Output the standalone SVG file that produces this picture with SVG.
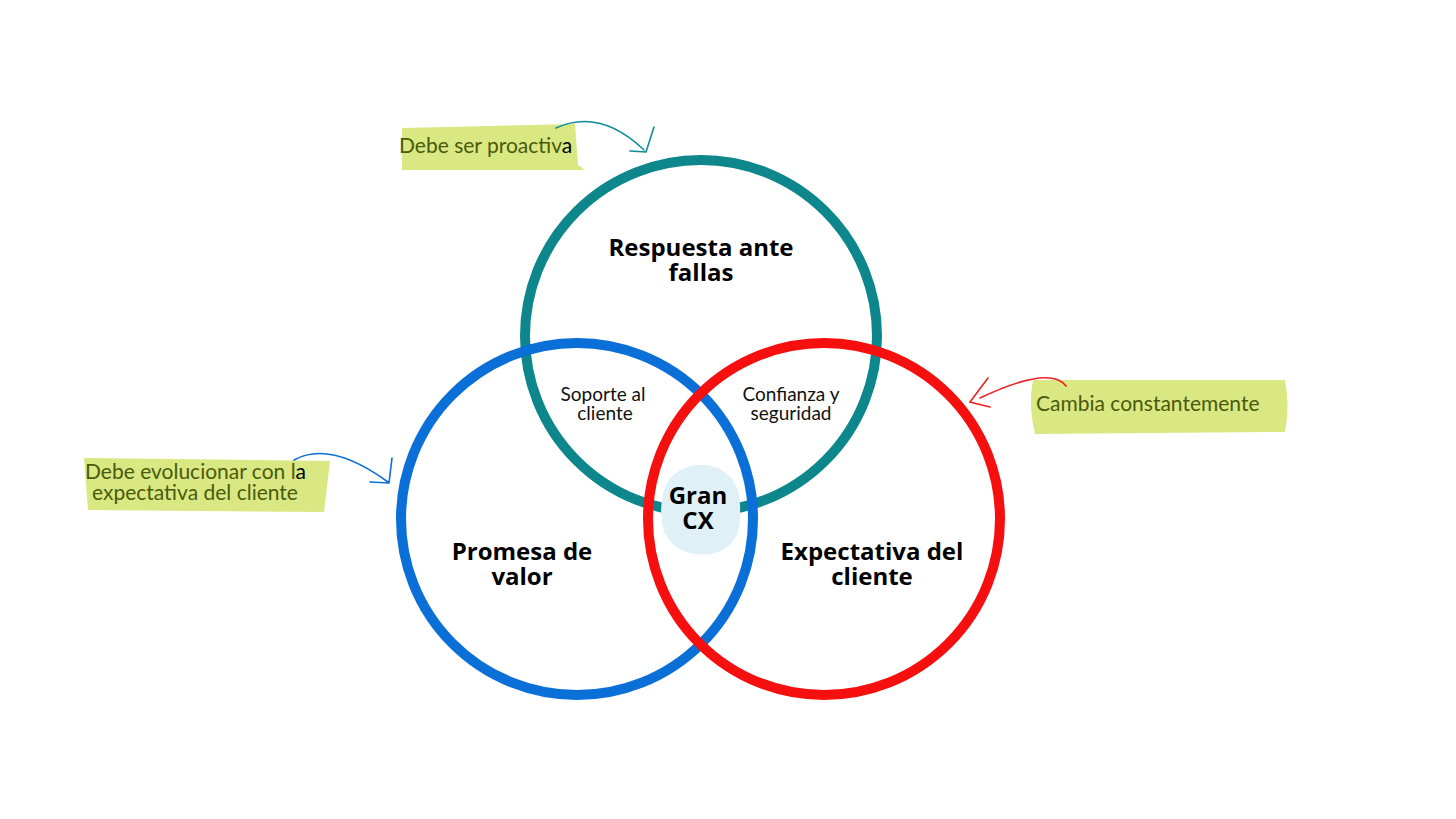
<svg xmlns="http://www.w3.org/2000/svg" width="1456" height="819" viewBox="0 0 1456 819">
<style>
.c{fill:none;stroke-width:10}
.t{font-family:"Open Sans","Liberation Sans",sans-serif;font-weight:700;font-size:24px;fill:#000;text-anchor:middle}
.s{font-family:Lato,"Liberation Sans",sans-serif;font-size:19px;fill:#111;text-anchor:middle}
.n{font-family:Lato,"Liberation Sans",sans-serif;font-size:21px;fill:#4a5a0a}
.h{fill:#d9e882}
.a{fill:none;stroke-width:1.6;stroke-linecap:round}
</style>
<rect width="1456" height="819" fill="#fff"/>
<g id="respuesta"><circle class="c" cx="701" cy="336" r="176" stroke="#0d868c"/><text class="t" x="701" y="256">Respuesta ante</text><text class="t" x="701" y="281">fallas</text></g>
<g id="promesa"><circle class="c" cx="577" cy="519" r="176" stroke="#0a6fd6"/><text class="t" x="522" y="560">Promesa de</text><text class="t" x="522" y="585">valor</text></g>
<g id="expectativa"><circle class="c" cx="824" cy="519" r="176" stroke="#f50f0f"/><text class="t" x="872" y="560">Expectativa del</text><text class="t" x="872" y="585">cliente</text></g>
<g id="gran"><path d="M670 478 Q690 458 718 468 Q742 480 740 512 Q742 548 710 554 Q678 558 664 532 Q656 500 670 478Z" fill="#dff0f6"/><text class="t" x="698" y="504">Gran</text><text class="t" x="698" y="529">CX</text></g>
<g id="soporte"><text class="s" x="603" y="401">Soporte al</text><text class="s" x="605" y="420">cliente</text></g>
<g id="confianza"><text class="s" x="791" y="401">Confianza y</text><text class="s" x="791" y="420">seguridad</text></g>
<g id="nota1"><path class="h" d="M402 128 L575 124 L578 165 L585 170 L402 170Z"/><text class="n" x="399" y="153">Debe ser proactiv<tspan fill="#000">a</tspan></text></g>
<g id="nota2"><path class="h" d="M84 458 L330 461 L324 512 L88 510Z"/><text class="n" x="85" y="479">Debe evolucionar con l<tspan fill="#000">a</tspan></text><text class="n" x="92" y="500">expectativa del cliente</text></g>
<g id="nota3"><path class="h" d="M1033 380 L1285 380 Q1290 405 1285 432 L1035 434 Q1028 405 1033 380Z"/><text class="n" x="1036" y="411">Cambia constantemente</text></g>
<g id="conectores">
<path class="a" stroke="#0d8c96" d="M556 128 Q600 108 644 150 M630 151 L646 152 L654 127"/>
<path class="a" stroke="#0a6fd6" d="M294 460 Q330 440 388 482 M370 482 L389 483 L392 458"/>
<path class="a" stroke="#f02020" d="M1066 386 Q1050 365 980 398 M988 378 L970 402 L990 407"/>
</g>
</svg>
